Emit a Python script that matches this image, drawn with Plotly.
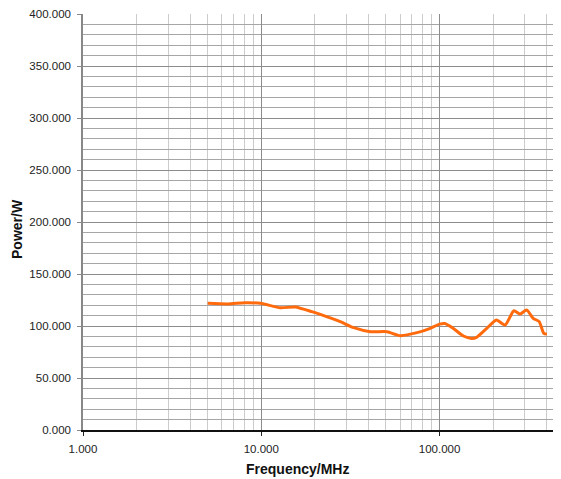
import plotly.graph_objects as go

freq_mhz = [5, 6.5, 8.1, 9.9, 12.8, 15.5, 19.2, 22.8, 27.7, 33, 40.9, 50.7, 60.2, 74.7, 88.7,
            100, 107, 119, 136, 151, 161, 184, 208, 233, 261, 283, 308, 335, 362, 384, 400]
power_w = [121.8, 121.2, 122.4, 121.8, 117.5, 118.3, 113.8, 109.5, 104.2, 98.4, 94.5, 94.5, 90.7, 93.6, 97.8,
           101.8, 102.4, 97.8, 90.4, 88.1, 89.1, 97.8, 105.8, 101, 114.7, 111.5, 115.4, 107.4, 104.2, 93, 92.3]

x_major = [1, 10, 100]
x_major_text = ["1.000", "10.000", "100.000"]
x_minor = [m * d for d in (1, 10, 100) for m in range(2, 10)]

fig = go.Figure()
fig.add_trace(go.Scatter(
    x=freq_mhz, y=power_w, mode="lines",
    line=dict(color="#FF6A0D", width=3, shape="spline", smoothing=0.6),
    showlegend=False, hoverinfo="skip",
))

font_family = "Liberation Sans, Arial, sans-serif"

# page has an 8px body margin; plot area spans page x 83..561, y 14..430
fig.update_layout(
    width=553, height=471,
    margin=dict(l=75, r=0, t=6, b=49, autoexpand=False),
    paper_bgcolor="white", plot_bgcolor="white",
    font=dict(family=font_family, size=11.5, color="#222222"),
    xaxis=dict(
        type="log", range=[0, 2.681], automargin=False,
        tickvals=x_major, ticktext=x_major_text,
        ticks="outside", ticklen=4, tickcolor="#222222", ticklabelstandoff=3,
        ticklabeloverflow="allow",
        showgrid=True, gridcolor="#8c8c8c", gridwidth=1,
        minor=dict(tickvals=x_minor, showgrid=True, gridcolor="#cccccc", gridwidth=1, ticks=""),
        showline=True, linecolor="#111111", linewidth=1.5,
        zeroline=False,
    ),
    yaxis=dict(
        range=[0, 400], dtick=50, tickformat=".3f", automargin=False,
        ticks="outside", ticklen=4, tickcolor="#888888", ticklabelstandoff=4,
        ticklabeloverflow="allow",
        showgrid=True, gridcolor="#8c8c8c", gridwidth=1,
        minor=dict(dtick=10, showgrid=True, gridcolor="#a6a6a6", gridwidth=1, ticks=""),
        showline=True, linecolor="#888888", linewidth=1.5,
        zeroline=False,
    ),
    annotations=[
        dict(text="<b>Frequency/MHz</b>", xref="paper", yref="paper", x=(297 - 83) / 478,
             y=-(469 - 430) / 416, xanchor="center", yanchor="middle", showarrow=False,
             font=dict(size=14, color="#111111")),
        dict(text="<b>Power/W</b>", xref="paper", yref="paper", x=-(83 - 17) / 478,
             y=(430 - 229) / 416, xanchor="center", yanchor="middle", showarrow=False,
             textangle=-90, font=dict(size=14, color="#111111")),
    ],
)

fig.write_html("out.html")
